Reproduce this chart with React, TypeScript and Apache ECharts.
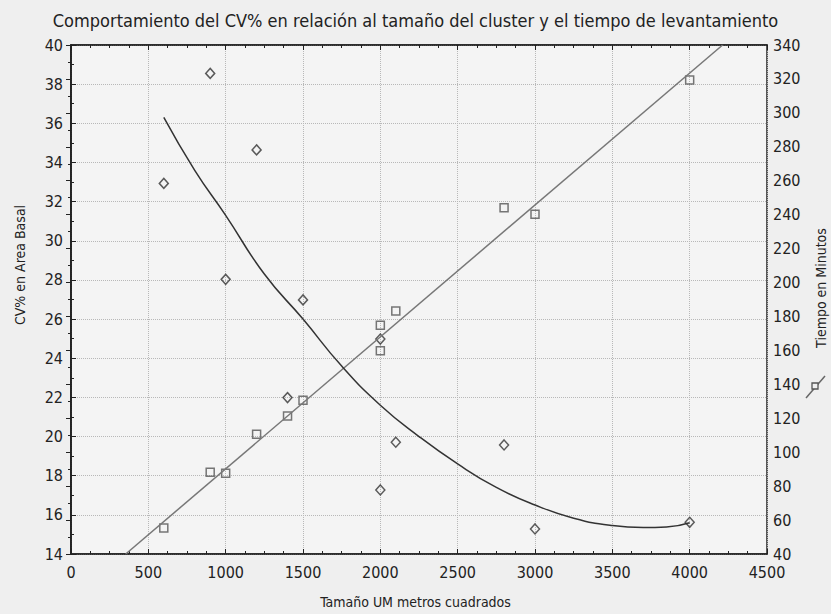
import React, { useEffect, useRef } from "react";
import * as echarts from "echarts";

const titleText = "Comportamiento del CV% en relación al tamaño del cluster y el tiempo de levantamiento";
const xName = "Tamaño UM metros cuadrados";
const yLeftName = "CV% en Area Basal";
const yRightName = "Tiempo en Minutos";

// CV% points (diamonds, left axis)
const cvX = [600, 900, 1000, 1200, 1400, 1500, 2000, 2000, 2100, 2800, 3000, 4000];
const cvY = [32.93, 38.55, 28.03, 34.64, 21.99, 26.98, 24.98, 17.27, 19.71, 19.57, 15.28, 15.62];

// Time points (squares, right axis)
const tX = [600, 900, 1000, 1200, 1400, 1500, 2000, 2000, 2100, 2800, 3000, 4000];
const tY = [55.3, 88.2, 87.6, 110.6, 121.3, 130.6, 174.8, 159.8, 183.2, 244.1, 240.2, 319.4];

// fitted quadratic curve for CV%
const curveX = [600, 800, 1000, 1250, 1500, 1750, 2000, 2250, 2500, 2750, 3000, 3250, 3500, 3700, 3850, 4000];
const curveY = [36.3, 33.6, 31.3, 28.3, 26.0, 23.6, 21.6, 20.0, 18.6, 17.4, 16.5, 15.83, 15.45, 15.35, 15.38, 15.6];

// fitted straight line for time
const lineX = [354, 4213];
const lineY = [40, 340];

const FONT = "'Liberation Sans Narrow', 'DejaVu Sans Condensed', sans-serif";

export default function App() {
  const ref = useRef<HTMLDivElement>(null);
  useEffect(() => {
    if (!ref.current) return;
    const chart = echarts.init(ref.current, null, { renderer: "svg" });
    const axisLine = { show: true, lineStyle: { color: "#222", width: 1.5 } };
    const splitLine = { show: true, lineStyle: { color: "#b8b8b8", type: "dotted", width: 1 } };
    const label = { color: "#222", fontFamily: FONT, fontSize: 16, formatter: (v: number) => String(v) };
    const tick = { show: true, inside: true, length: 5, lineStyle: { color: "#222" } };
    const minor = (n: number) => ({ show: true, splitNumber: n, length: 3, lineStyle: { color: "#222" } });
    chart.setOption({
      animation: false,
      backgroundColor: "#efefef",
      title: {
        text: titleText,
        left: "center",
        top: 6,
        textStyle: { color: "#222", fontFamily: FONT, fontSize: 18, fontWeight: "normal" },
      },
      grid: { left: 71, right: 64, top: 45, bottom: 60, show: true, backgroundColor: "#f4f4f4", borderColor: "#222", borderWidth: 1.5 },
      xAxis: [
        {
          type: "value",
          min: 0,
          max: 4500,
          interval: 500,
          axisLine,
          axisTick: tick,
          minorTick: minor(4),
          axisLabel: { ...label, margin: 10 },
          splitLine,
        },
        {
          type: "value",
          position: "top",
          min: 0,
          max: 4500,
          interval: 500,
          axisLine,
          axisTick: tick,
          minorTick: minor(4),
          axisLabel: { show: false },
          splitLine: { show: false },
        },
      ],
      yAxis: [
        {
          type: "value",
          min: 14,
          max: 40,
          interval: 2,
          axisLine,
          axisTick: tick,
          minorTick: minor(2),
          axisLabel: { ...label, margin: 8 },
          splitLine,
        },
        {
          type: "value",
          min: 40,
          max: 340,
          interval: 20,
          position: "right",
          axisLine,
          axisTick: tick,
          minorTick: minor(2),
          axisLabel: { ...label, margin: 6 },
          splitLine: { show: false },
        },
      ],
      graphic: [
        {
          type: "text",
          left: "center",
          top: 595,
          style: { text: xName, fill: "#222", font: `14px ${FONT}` },
        },
        {
          type: "text",
          x: 20,
          y: 265,
          rotation: Math.PI / 2,
          style: { text: yLeftName, fill: "#222", font: `14px ${FONT}`, align: "center", verticalAlign: "middle" },
        },
        {
          type: "text",
          x: 821,
          y: 288,
          rotation: Math.PI / 2,
          style: { text: yRightName, fill: "#222", font: `14px ${FONT}`, align: "center", verticalAlign: "middle" },
        },
        {
          type: "line",
          shape: { x1: 825, y1: 376, x2: 806, y2: 398 },
          style: { stroke: "#666", lineWidth: 1.5 },
        },
        {
          type: "rect",
          shape: { x: 812, y: 383, width: 6, height: 6 },
          style: { fill: "#efefef", stroke: "#555", lineWidth: 1.3 },
        },
      ],
      series: [
        {
          type: "line",
          name: "tiempo ajuste",
          xAxisIndex: 0,
          yAxisIndex: 1,
          data: lineX.map((x, i) => [x, lineY[i]]),
          showSymbol: false,
          lineStyle: { color: "#777", width: 1.5 },
        },
        {
          type: "line",
          name: "cv ajuste",
          xAxisIndex: 0,
          yAxisIndex: 0,
          smooth: true,
          data: curveX.map((x, i) => [x, curveY[i]]),
          showSymbol: false,
          lineStyle: { color: "#333", width: 1.5 },
        },
        {
          type: "scatter",
          name: "CV%",
          xAxisIndex: 0,
          yAxisIndex: 0,
          symbol: "diamond",
          symbolSize: [9, 10],
          data: cvX.map((x, i) => [x, cvY[i]]),
          itemStyle: { color: "rgba(0,0,0,0)", borderColor: "#333", borderWidth: 1.5 },
        },
        {
          type: "scatter",
          name: "Tiempo",
          xAxisIndex: 0,
          yAxisIndex: 1,
          symbol: "rect",
          symbolSize: 8,
          data: tX.map((x, i) => [x, tY[i]]),
          itemStyle: { color: "rgba(0,0,0,0)", borderColor: "#555", borderWidth: 1.5 },
        },
      ],
    });
    return () => chart.dispose();
  }, []);
  return <div ref={ref} style={{ position: "fixed", left: 0, top: 0, width: 831, height: 614 }} />;
}
